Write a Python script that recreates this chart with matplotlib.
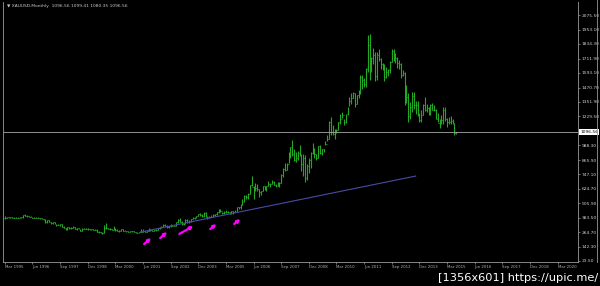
import pandas as pd
import matplotlib
matplotlib.use("Agg")
import matplotlib.pyplot as plt
import matplotlib.transforms as mtransforms
from matplotlib.lines import Line2D

# monthly gold bars, Mar 1995 .. Aug 2015
months = pd.period_range("1995-03", "2015-08", freq="M")

closes = [
    382, 389, 385, 387, 383, 382, 383, 383, 387, 387,
    405, 400, 396, 392, 391, 382, 386, 386, 379, 379, 371, 369,
    346, 364, 348, 340, 345, 334, 326, 325, 332, 311, 296, 290,
    304, 297, 301, 310, 293, 296, 288, 273, 293, 292, 294, 288,
    287, 287, 279, 286, 268, 262, 255, 255, 299, 299, 292, 290,
    283, 293, 278, 274, 273, 288, 276, 278, 273, 264, 270, 273,
    265, 267, 258, 264, 267, 271, 265, 273, 293, 279, 275, 279,
    282, 297, 301, 309, 326, 318, 304, 312, 324, 318, 318, 348,
    368, 347, 334, 339, 364, 346, 354, 375, 385, 386, 398, 416,
    403, 396, 426, 388, 394, 392, 391, 408, 416, 428, 453, 438,
    422, 435, 428, 436, 418, 437, 430, 433, 473, 470, 495, 513,
    569, 557, 583, 654, 643, 614, 632, 623, 599, 604, 646, 632,
    650, 669, 662, 680, 659, 650, 665, 673, 743, 789, 783, 834,
    923, 971, 916, 864, 886, 928, 912, 833, 880, 718, 815, 869,
    928, 942, 916, 883, 979, 927, 955, 955, 1001, 1040, 1181, 1096,
    1081, 1118, 1113, 1180, 1212, 1244, 1181, 1248, 1307, 1357, 1384, 1421,
    1332, 1410, 1439, 1556, 1536, 1500, 1628, 1826, 1620, 1715, 1746, 1564,
    1738, 1711, 1669, 1664, 1561, 1604, 1614, 1687, 1773, 1719, 1713, 1675,
    1664, 1578, 1595, 1472, 1393, 1234, 1312, 1396, 1327, 1323, 1253, 1202,
    1240, 1326, 1284, 1296, 1250, 1327, 1282, 1287, 1210, 1171, 1182, 1199,
    1284, 1212, 1183, 1184, 1190, 1172, 1095, 1096.56,
]
highs = [
    396, 394, 392, 393, 389, 389, 388, 389, 391, 392,
    408, 418, 406, 401, 395, 391, 390, 390, 387, 385, 385, 374,
    370, 366, 366, 349, 350, 349, 336, 330, 336, 334, 315, 298,
    306, 305, 304, 315, 303, 302, 297, 289, 297, 302, 298, 297,
    293, 291, 292, 293, 291, 273, 264, 262, 320, 338, 302, 298,
    291, 317, 300, 291, 286, 294, 292, 280, 276, 275, 274, 275,
    274, 269, 269, 268, 292, 294, 272, 275, 298, 293, 284, 281,
    290, 298, 304, 313, 328, 330, 322, 318, 328, 325, 325, 350,
    373, 382, 358, 341, 375, 371, 363, 376, 391, 394, 400, 418,
    427, 418, 432, 432, 397, 398, 408, 416, 418, 430, 456, 458,
    430, 439, 445, 437, 436, 443, 437, 447, 474, 476, 496, 540,
    571, 574, 589, 654, 732, 647, 676, 665, 628, 610, 647, 650,
    652, 687, 673, 697, 689, 666, 682, 682, 746, 797, 845, 840,
    932, 975, 1033, 958, 935, 941, 988, 916, 916, 904, 830, 881,
    931, 1006, 962, 917, 981, 989, 960, 960, 1025, 1072, 1195, 1226,
    1161, 1125, 1127, 1180, 1249, 1265, 1208, 1248, 1307, 1388, 1424, 1431,
    1424, 1412, 1447, 1576, 1577, 1553, 1631, 1912, 1920, 1725, 1803, 1764,
    1764, 1792, 1720, 1676, 1667, 1640, 1624, 1692, 1790, 1796, 1755, 1723,
    1697, 1679, 1616, 1603, 1488, 1424, 1348, 1433, 1434, 1362, 1361, 1262,
    1280, 1333, 1392, 1331, 1307, 1332, 1345, 1321, 1294, 1255, 1208, 1239,
    1308, 1307, 1220, 1224, 1232, 1206, 1172, 1099.41,
]
lows = [
    373, 380, 382, 383, 382, 379, 380, 381, 382, 384,
    385, 395, 393, 389, 389, 380, 380, 383, 378, 377, 370, 366,
    341, 343, 347, 336, 334, 332, 318, 320, 318, 309, 296, 284,
    279, 291, 290, 299, 292, 286, 287, 272, 277, 287, 289, 285,
    283, 284, 279, 279, 268, 257, 253, 252, 255, 290, 288, 280,
    281, 282, 276, 271, 268, 274, 276, 271, 269, 264, 263, 266,
    263, 255, 255, 256, 264, 267, 265, 265, 271, 276, 270, 271,
    277, 282, 288, 299, 307, 316, 300, 301, 310, 312, 313, 316,
    342, 347, 323, 322, 336, 341, 342, 351, 371, 370, 382, 397,
    400, 392, 394, 387, 371, 382, 388, 389, 397, 410, 423, 430,
    416, 412, 425, 423, 414, 413, 418, 430, 436, 458, 456, 490,
    513, 541, 537, 583, 648, 543, 611, 609, 560, 573, 604, 616,
    604, 652, 637, 666, 655, 641, 649, 643, 670, 725, 774, 782,
    844, 883, 902, 861, 847, 862, 902, 771, 736, 681, 703, 754,
    803, 916, 881, 866, 883, 916, 908, 936, 994, 1025, 1043, 1076,
    1074, 1044, 1088, 1119, 1166, 1217, 1157, 1175, 1243, 1315, 1330, 1380,
    1308, 1330, 1379, 1417, 1462, 1479, 1478, 1604, 1535, 1601, 1669, 1523,
    1536, 1691, 1627, 1613, 1527, 1548, 1564, 1590, 1686, 1694, 1672, 1636,
    1625, 1554, 1565, 1321, 1338, 1180, 1208, 1270, 1288, 1251, 1231, 1182,
    1182, 1238, 1277, 1268, 1240, 1240, 1282, 1275, 1206, 1182, 1132, 1167,
    1167, 1190, 1142, 1170, 1170, 1163, 1077, 1080.35,
]

price_ticks = [23.50, 142.30, 264.70, 383.50, 505.90, 624.70, 747.10, 865.90,
               988.30, 1229.50, 1351.90, 1470.70, 1593.10, 1711.90, 1834.30,
               1953.10, 2075.50]
last_price = 1096.56
header = "\u25bc XAUUSD,Monthly  1096.56 1099.41 1080.35 1096.56"

# trend line (bar position, price) and the magenta arrows (tail -> tip)
trend_x = [73.5, 223.0]
trend_y = [264, 732]
arrow_x0 = [75.6, 84.3, 94.7, 111.5, 124.5]
arrow_y0 = [165, 215, 249, 290, 332]
arrow_x1 = [79.4, 88.1, 102.3, 114.8, 127.8]
arrow_y1 = [215, 265, 315, 332, 374]

opens = [closes[0]] + closes[:-1]
x = list(range(len(closes)))

fig = plt.figure(figsize=(6, 2.86), dpi=100, facecolor="black")
ax = fig.add_axes([0.005, 0.084, 0.958, 0.909], facecolor="black")

bar_col = "#22a822"
ax.vlines(x, lows, highs, color=bar_col, lw=0.8)
ax.hlines(opens, [i - 0.45 for i in x], x, color=bar_col, lw=0.6)
ax.hlines(closes, x, [i + 0.45 for i in x], color=bar_col, lw=0.6)

ax.plot(trend_x, trend_y, color="#4a4aa8", lw=0.8)
for a, b, c, d in zip(arrow_x0, arrow_y0, arrow_x1, arrow_y1):
    ax.annotate("", xy=(c, d), xytext=(a, b),
                arrowprops=dict(arrowstyle="-|>", color="#ff00ff", lw=1.6,
                                mutation_scale=4, shrinkA=0, shrinkB=0))

ax.axhline(last_price, color="#a8a8a8", lw=0.6)

ax.set_xlim(-1, 311)
ax.set_ylim(15.2, 2184)

ax.yaxis.tick_right()
ax.set_yticks(price_ticks)
ax.set_yticklabels([f"{v:.2f}" for v in price_ticks])
ax.tick_params(axis="y", colors="#9a9a9a", labelcolor="#d0d0d0", length=1.5,
               width=0.5, labelsize=3.2, pad=1)

xt = list(range(0, len(months) + 60, 15))
ax.set_xticks(xt)
ax.set_xticklabels([(months[0] + i).strftime("%b %Y") for i in xt], ha="left")
ax.tick_params(axis="x", colors="#9a9a9a", labelcolor="#b0b0b0", length=1.5,
               width=0.5, labelsize=2.8, pad=1)

for s in ["left", "bottom", "right"]:
    ax.spines[s].set_color("#9a9a9a")
    ax.spines[s].set_linewidth(0.6)
ax.spines["top"].set_visible(False)

# price box on the axis
tr = mtransforms.blended_transform_factory(ax.transAxes, ax.transData)
ax.text(1.004, last_price, f"{last_price:.2f}", transform=tr, fontsize=3.2,
        color="black", va="center", ha="left", clip_on=False,
        bbox=dict(boxstyle="square,pad=0.25", fc="white", ec="white", lw=0))

# outer border of the price scale
fig.add_artist(Line2D([0.995, 0.995], [0.084, 1.0], color="#9a9a9a", lw=0.6))

fig.text(0.012, 0.985, header, fontsize=3.2, color="#c8c8c8", va="top")
fig.text(0.997, 0.012, "[1356x601] https://upic.me/", fontsize=8.2,
         color="white", ha="right", va="bottom")

fig.savefig("out.png", dpi=100, facecolor="black")
